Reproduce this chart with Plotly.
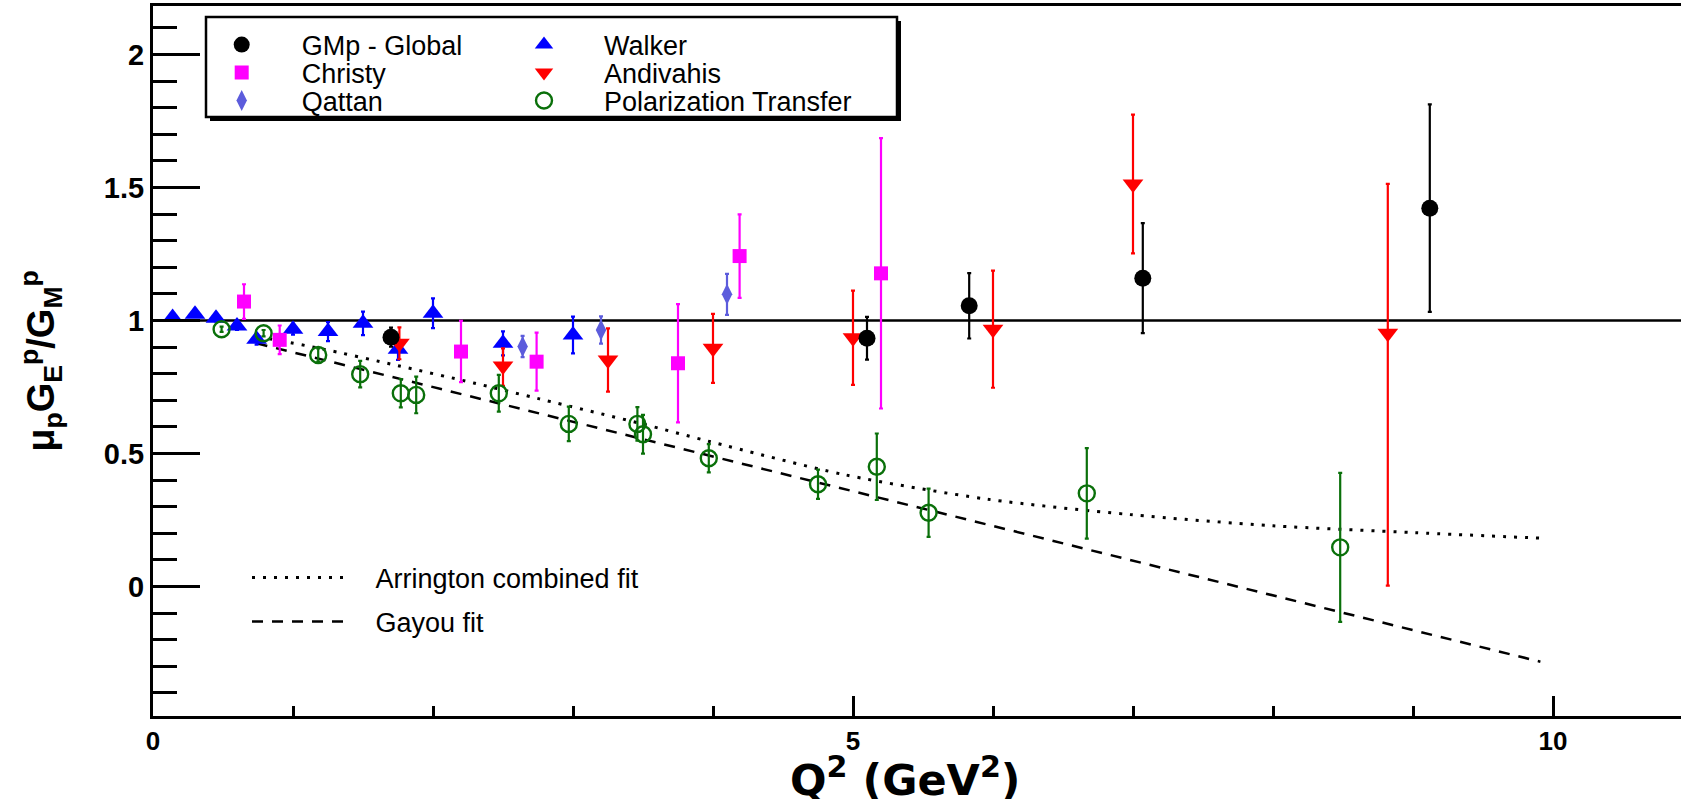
import plotly.graph_objects as go

# ---------------- data ----------------
gmp_x = [1.70, 5.10, 5.83, 7.07, 9.12]
gmp_y = [0.937, 0.933, 1.055, 1.159, 1.422]
gmp_e = [0.036, 0.080, 0.123, 0.207, 0.390]

christy_x = [0.65, 0.905, 2.20, 2.74, 3.75, 4.19, 5.20]
christy_y = [1.071, 0.927, 0.883, 0.845, 0.839, 1.242, 1.177]
christy_e = [0.065, 0.054, 0.115, 0.109, 0.222, 0.157, 0.508]

qattan_x = [2.64, 3.20, 4.10]
qattan_y = [0.902, 0.964, 1.098]
qattan_e = [0.040, 0.051, 0.077]

walker_x = [0.14, 0.30, 0.45, 0.60, 0.74, 1.00, 1.25, 1.50, 1.75, 2.00, 2.50, 3.00]
walker_y = [1.011, 1.023, 1.008, 0.979, 0.929, 0.967, 0.958, 0.989, 0.892, 1.027, 0.914, 0.945]
walker_e = [0.010, 0.010, 0.012, 0.015, 0.020, 0.020, 0.036, 0.044, 0.040, 0.056, 0.045, 0.069]

andiv_x = [1.76, 2.50, 3.25, 4.00, 5.00, 6.00, 7.00, 8.82]
andiv_y = [0.914, 0.829, 0.851, 0.895, 0.935, 0.967, 1.513, 0.952]
andiv_ep = [0.060, 0.066, 0.119, 0.130, 0.177, 0.220, 0.261, 0.561]
andiv_em = [0.060, 0.075, 0.119, 0.130, 0.177, 0.220, 0.261, 0.949]

pt_x = [0.49, 0.79, 1.18, 1.48, 1.77, 1.88, 2.47, 2.97, 3.46, 3.50, 3.97, 4.75, 5.17, 5.54, 6.67, 8.48]
pt_y = [0.967, 0.952, 0.870, 0.798, 0.726, 0.720, 0.726, 0.611, 0.611, 0.572, 0.482, 0.384, 0.450, 0.277, 0.350, 0.147]
pt_e = [0.010, 0.012, 0.025, 0.050, 0.053, 0.069, 0.069, 0.065, 0.063, 0.073, 0.053, 0.055, 0.125, 0.091, 0.170, 0.280]

arr_x = [0.75, 1.19, 1.75, 2.29, 2.76, 3.48, 3.975, 4.94, 5.96, 6.98, 8.00, 9.02, 9.94]
arr_y = [0.939, 0.895, 0.830, 0.765, 0.705, 0.613, 0.545, 0.420, 0.328, 0.270, 0.228, 0.202, 0.181]

gayou_x = [0.74, 9.91]
gayou_y = [0.914, -0.283]

x_ticks = [0, 5, 10]
y_ticks = [0, 0.5, 1, 1.5, 2]
y_tick_text = ["0", "0.5", "1", "1.5", "2"]

# ---------------- figure ----------------
FONT = "Liberation Sans, Arial, Helvetica, sans-serif"
WIDE = "DejaVu Sans, Liberation Sans, sans-serif"
W, H = 1681, 799
ML, MR, MT, MB = 153, 0, 6, 83
PW, PH = W - ML - MR, H - MT - MB


def px_x(p):
    return (p - ML) / PW


def px_y(p):
    return (H - MB - p) / PH


fig = go.Figure()


def add_points(name, x, y, color, symbol, size, legend, ep, em=None, open_=False):
    err = dict(type="data", array=ep, color=color, thickness=2.2, width=2, visible=True)
    if em is not None:
        err["symmetric"] = False
        err["arrayminus"] = em
    marker = dict(symbol=symbol, size=size, color=color)
    if open_:
        marker["line"] = dict(color=color, width=2.4)
    fig.add_trace(go.Scatter(
        x=x, y=y, mode="markers", name=name, marker=marker,
        error_y=err, legend=legend, cliponaxis=False, showlegend=True,
    ))


# dashed / dotted fits
fig.add_trace(go.Scatter(x=arr_x, y=arr_y, mode="lines", name="\u00a0\u00a0\u00a0Arrington combined fit",
                         line=dict(color="black", width=3, dash="3px,8px", shape="spline", smoothing=0.8),
                         legend="legend7", showlegend=True))
fig.add_trace(go.Scatter(x=gayou_x, y=gayou_y, mode="lines", name="\u00a0\u00a0\u00a0Gayou fit",
                         line=dict(color="black", width=2.5, dash="11px,9px"),
                         legend="legend8", showlegend=True))

add_points("Walker", walker_x, walker_y, "#0000ff", "triangle-up", 18, "legend4", walker_e)
add_points("Christy", christy_x, christy_y, "#ff00ff", "square", 14, "legend2", christy_e)
add_points("Qattan", qattan_x, qattan_y, "#5c5cdc", "diamond-tall", 15, "legend3", qattan_e)
add_points("Andivahis", andiv_x, andiv_y, "#ff0000", "triangle-down", 18, "legend5", andiv_ep, andiv_em)
add_points("Polarization Transfer", pt_x, pt_y, "#0a700a", "circle-open", 16, "legend6", pt_e, open_=True)
add_points("GMp - Global", gmp_x, gmp_y, "black", "circle", 17, "legend9", gmp_e)

legend_font = dict(family=FONT, size=27, color="black")


def leg(xp, yp, itemwidth=110):
    return dict(x=px_x(xp), y=px_y(yp), xanchor="left", yanchor="middle",
                bgcolor="rgba(0,0,0,0)", borderwidth=0, font=legend_font,
                itemwidth=itemwidth, tracegroupgap=0, visible=True)


rows = [45.0, 73.0, 101.0]
fig.update_layout(
    showlegend=True,
    legend9=leg(181.7, rows[0]),
    legend2=leg(181.7, rows[1]),
    legend3=leg(181.7, rows[2]),
    legend4=leg(484.0, rows[0]),
    legend5=leg(484.0, rows[1]),
    legend6=leg(484.0, rows[2]),
    legend7=leg(247.0, 578.0, itemwidth=96),
    legend8=leg(247.0, 622.0, itemwidth=96),
)

shapes = [
    # line at ratio = 1
    dict(type="line", xref="paper", yref="y", x0=0, x1=1, y0=1, y1=1,
         line=dict(color="black", width=2.6), layer="below"),
    # legend box shadow + box
    dict(type="rect", xref="paper", yref="paper",
         x0=px_x(210), x1=px_x(901), y0=px_y(121), y1=px_y(21),
         fillcolor="black", line=dict(width=0), layer="above"),
    dict(type="rect", xref="paper", yref="paper",
         x0=px_x(206), x1=px_x(897), y0=px_y(117), y1=px_y(17),
         fillcolor="white", line=dict(color="black", width=2.5), layer="above"),
]

annotations = [
    dict(text="<b>Q<sup>2</sup> (GeV<sup>2</sup>)</b>", xref="paper", yref="paper",
         x=px_x(905), y=px_y(777), xanchor="center", yanchor="middle", showarrow=False,
         font=dict(family=WIDE, size=43, color="black")),
]

y_title = "<b>\u03bc<sub>p</sub>G<sub>E</sub><sup>p</sup>/G<sub>M</sub><sup>p</sup></b>"

fig.update_layout(
    width=W, height=H,
    margin=dict(l=ML, r=MR, t=MT, b=MB, pad=0),
    paper_bgcolor="white", plot_bgcolor="white",
    shapes=shapes, annotations=annotations,
    font=dict(family=FONT, color="black"),
    xaxis=dict(
        range=[0, PW / 140.0], tickvals=x_ticks, ticktext=[str(v) for v in x_ticks],
        ticks="inside", ticklen=20, tickwidth=2.5, tickcolor="black",
        minor=dict(dtick=1, ticks="inside", ticklen=10, tickwidth=2.5, tickcolor="black"),
        showline=True, linewidth=3, linecolor="black", mirror=True,
        showgrid=False, zeroline=False,
        tickfont=dict(family=FONT, size=26, color="black", weight="bold"),
    ),
    yaxis=dict(
        range=[-0.487, 2.182], tickvals=y_ticks, ticktext=y_tick_text,
        ticks="inside", ticklen=47, tickwidth=2.5, tickcolor="black",
        minor=dict(dtick=0.1, ticks="inside", ticklen=24, tickwidth=2.5, tickcolor="black"),
        showline=True, linewidth=3, linecolor="black",
        showgrid=False, zeroline=False,
        tickfont=dict(family=FONT, size=29, color="black", weight="bold"),
        title=dict(text=y_title, standoff=38, font=dict(family=FONT, size=38, color="black")),
    ),
)

fig.write_html("out.html")
